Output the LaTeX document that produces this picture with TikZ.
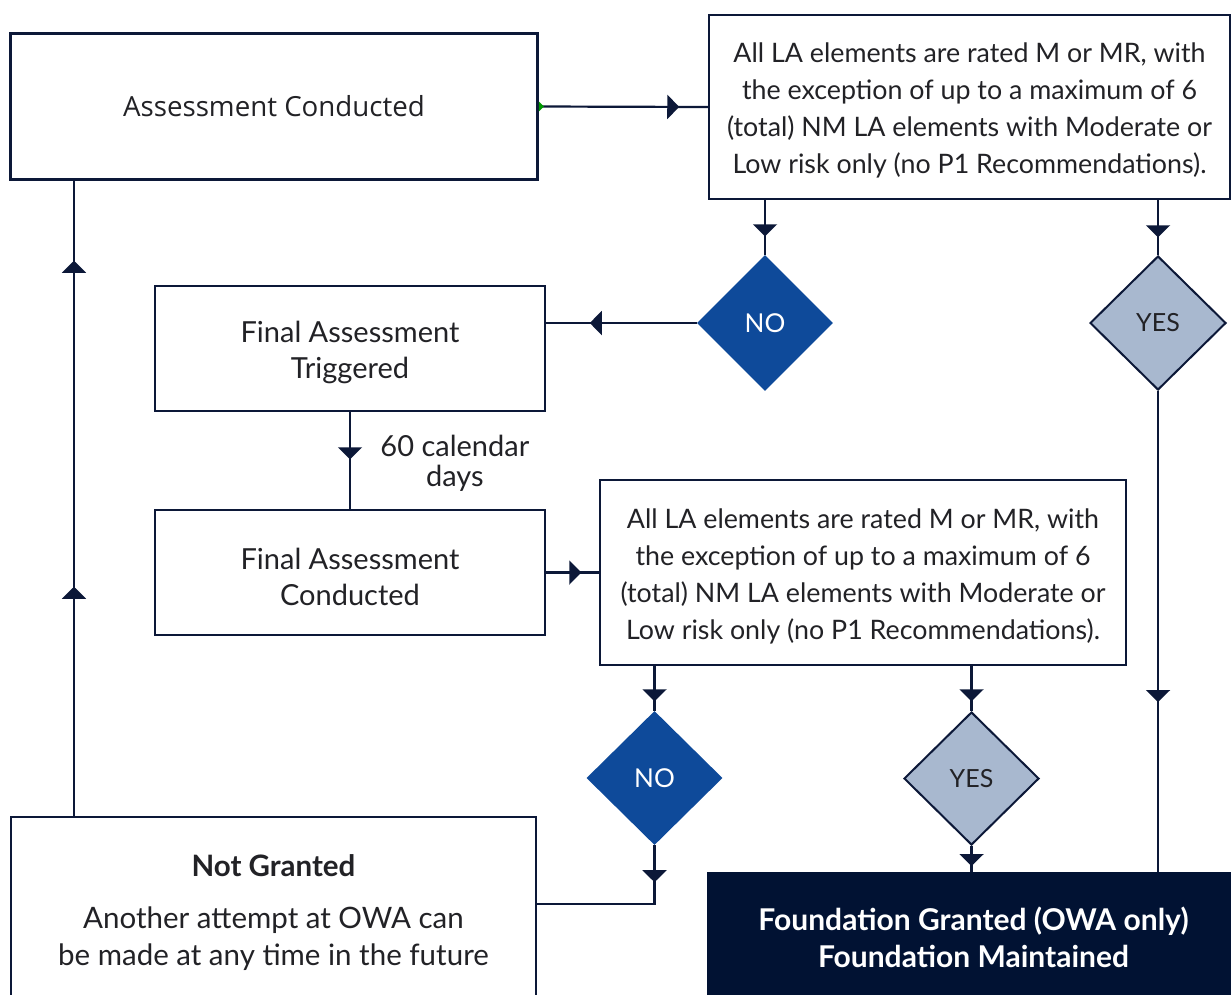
\documentclass[tikz,border=0pt]{standalone}
\usepackage{fontspec}
\setmainfont{Lato}
\newfontfamily\segoe{Open Sans}
\usetikzlibrary{shapes.geometric,arrows.meta,decorations.markings}
\definecolor{navy}{RGB}{12,24,56}
\definecolor{noblue}{RGB}{14,74,154}
\definecolor{yesgray}{RGB}{168,184,207}
\definecolor{gdark}{RGB}{1,18,51}
\definecolor{txt}{RGB}{34,34,38}
\newcommand{\topstrut}[1]{\rule{0pt}{#1}}
\tikzset{
  box/.style={draw=navy, line width=2.5pt, fill=white, inner sep=0pt, align=center, text=txt},
  nodia/.style={diamond, fill=noblue, inner sep=0pt, text=white, font=\fontsize{26}{30}\selectfont},
  yesdia/.style={diamond, fill=yesgray, draw=navy, line width=2pt, inner sep=0pt, text=txt, font=\fontsize{25}{30}\selectfont},
  conn/.style={draw=navy, line width=2.2pt},
  tipA/.style={postaction={decorate, decoration={markings, mark=at position #1 with {\arrow[navy]{Triangle[width=24pt,length=12pt]}}}}},
}
\begin{document}
\begin{tikzpicture}[x=1pt, y=-1pt]
\useasboundingbox (0,0) rectangle (1231,994);
% boxes
\node[box, minimum width=527pt, minimum height=146pt, font=\segoe\fontsize{27.7}{32}\selectfont] (A) at (274,106.5) {Assessment Conducted};
\node[box, minimum width=521pt, minimum height=184pt, font=\fontsize{26.8}{37}\selectfont] (B) at (969.5,107) {\topstrut{27pt}All LA elements are rated M or MR, with\\the exception of up to a maximum of 6\\(total) NM LA elements with Moderate or\\Low risk only (no P1 Recommendations).};
\node[box, minimum width=390pt, minimum height=125pt, font=\fontsize{29}{36}\selectfont] (C) at (350,348.5) {\topstrut{30pt}Final Assessment\\Triggered};
\node[box, minimum width=390pt, minimum height=125pt, font=\fontsize{29}{36}\selectfont] (D) at (350,572.5) {\topstrut{30pt}Final Assessment\\Conducted};
\node[box, minimum width=526pt, minimum height=185pt, font=\fontsize{26.8}{37}\selectfont] (E) at (863,572.5) {\topstrut{27pt}All LA elements are rated M or MR, with\\the exception of up to a maximum of 6\\(total) NM LA elements with Moderate or\\Low risk only (no P1 Recommendations).};
\node[box, minimum width=525pt, minimum height=183pt, font=\fontsize{29.5}{37}\selectfont] (F) at (273.5,908.5) {\topstrut{30pt}\textbf{Not Granted}\\[15pt]Another attempt at OWA can\\be made at any time in the future};
\node[fill=gdark, minimum width=533pt, minimum height=128pt, inner sep=0pt, align=center, text=white, font=\bfseries\fontsize{30}{37}\selectfont] (G) at (973.5,936) {\topstrut{26pt}Foundation Granted (OWA only)\\Foundation Maintained};
% diamonds
\node[nodia, minimum width=136pt, minimum height=136pt] (N1) at (765,323) {NO};
\node[yesdia, minimum width=136pt, minimum height=134pt] (Y1) at (1158,323) {YES};
\node[nodia, minimum width=136pt, minimum height=134pt] (N2) at (654.5,778) {NO};
\node[yesdia, minimum width=135pt, minimum height=133pt] (Y2) at (971.5,778.5) {YES};
\coordinate (lx) at (74,0);
% connectors
\draw[conn, tipA=140.5pt] (A.east) -- (B.west);
\fill[green!60!black] (A.east) ++(0,-5) -- ++(5,5) -- ++(-5,5) -- cycle;
\draw[conn, tipA=36pt] (B.south -| N1.north) -- (N1.north);
\draw[conn, tipA=37pt] (B.south -| Y1.north) -- (Y1.north);
\draw[conn, tipA=107pt] (N1.west) -- (N1.west -| C.east);
\draw[conn, tipA=47pt] (C.south) -- node[pos=0.5, right=26pt, align=center, text=txt, font=\fontsize{29}{30}\selectfont, yshift=-3pt] (lab) {60 calendar\\days} (D.north);
\draw[conn, tipA=35pt] (D.east) -- (D.east -| E.west);
\draw[conn, tipA=35pt] (E.south -| N2.north) -- (N2.north);
\draw[conn, tipA=35pt] (E.south -| Y2.north) -- (Y2.north);
\draw[conn, tipA=311pt] (Y1.south) -- (Y1.south |- G.north);
\draw[conn, tipA=20pt] (Y2.south) -- (Y2.south |- G.north);
\draw[conn, tipA=37pt] (N2.south) |- ([yshift=4.5pt]F.east);
\draw[conn, postaction={decorate, decoration={markings,
   mark=at position 229pt with {\arrow[navy]{Triangle[width=24pt,length=12pt]}},
   mark=at position 555pt with {\arrow[navy]{Triangle[width=24pt,length=12pt]}}}}]
   (F.north -| lx) -- (A.south -| lx);
\end{tikzpicture}
\end{document}
